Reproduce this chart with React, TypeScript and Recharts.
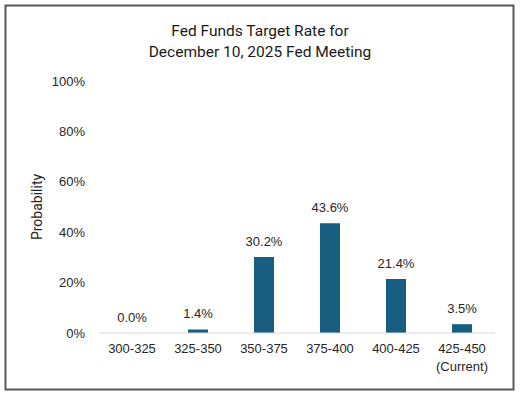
import React from 'react';
import { ComposedChart, Bar, Line, XAxis, YAxis, LabelList } from 'recharts';

const categories = ['300-325', '325-350', '350-375', '375-400', '400-425', '425-450'];
const subLabels = ['', '', '', '', '', '(Current)'];
const probabilities = [0.0, 1.4, 30.2, 43.6, 21.4, 3.5];
const yTicks = [0, 20, 40, 60, 80, 100];

const data = categories.map((c, i) => ({ name: c, sub: subLabels[i], value: probabilities[i] }));

const XTick = (props: any) => {
  const { x, y, payload, index } = props;
  const sub = subLabels[index] || '';
  return (
    <g>
      <text x={x} y={y + 12} textAnchor="middle" fontSize={13} fill="#262626" fontFamily="Liberation Sans, Arial, sans-serif">
        {payload.value}
      </text>
      {sub && (
        <text x={x} y={y + 30} textAnchor="middle" fontSize={13} fill="#262626" fontFamily="Liberation Sans, Arial, sans-serif">
          {sub}
        </text>
      )}
    </g>
  );
};

export default function App() {
  return (
    <div style={{ position: 'absolute', left: 0, top: 0, width: 526, height: 399, background: '#fff' }}>
      <svg width={526} height={399} style={{ position: 'absolute', left: 0, top: 0 }}>
        <rect x={5.5} y={5.5} width={508} height={384} fill="#fff" stroke="#595959" strokeWidth={2} />
        <text x={260} y={36} textAnchor="middle" fontSize={15.5} fill="#1a1a1a" fontFamily="Roboto, sans-serif">
          Fed Funds Target Rate for
        </text>
        <text x={260} y={57} textAnchor="middle" fontSize={15.5} fill="#1a1a1a" fontFamily="Roboto, sans-serif">
          December 10, 2025 Fed Meeting
        </text>
        <text
          x={0}
          y={0}
          transform="translate(42 207) rotate(-90)"
          textAnchor="middle"
          fontSize={14}
          fill="#262626"
          fontFamily="Roboto, sans-serif"
        >
          Probability
        </text>
      </svg>
      <div style={{ position: 'absolute', left: 0, top: 0 }}>
        <ComposedChart width={526} height={399} data={data} margin={{ top: 81, right: 31, bottom: 26, left: 0 }}>
          <YAxis
            type="number"
            domain={[0, 100]}
            ticks={yTicks}
            width={99}
            axisLine={false}
            tickLine={false}
            tickSize={0}
            tickMargin={14}
            tickFormatter={(v: number) => `${v}%`}
            tick={{ fontSize: 13, fill: '#262626', fontFamily: 'Liberation Sans, Arial, sans-serif' }}
          />
          <XAxis
            dataKey="name"
            height={40}
            axisLine={{ stroke: '#d9d9d9', strokeWidth: 1 }}
            tickLine={false}
            tick={<XTick />}
            interval={0}
          />
          <Bar dataKey="value" fill="#175e80" barSize={20} isAnimationActive={false} />
          <Line dataKey="value" stroke="none" dot={false} activeDot={false} isAnimationActive={false}>
            <LabelList
              dataKey="value"
              position="top"
              offset={11}
              formatter={(v: any) => `${Number(v).toFixed(1)}%`}
              style={{ fontSize: 13, fill: '#262626', fontFamily: 'Liberation Sans, Arial, sans-serif' }}
            />
          </Line>
        </ComposedChart>
      </div>
    </div>
  );
}
